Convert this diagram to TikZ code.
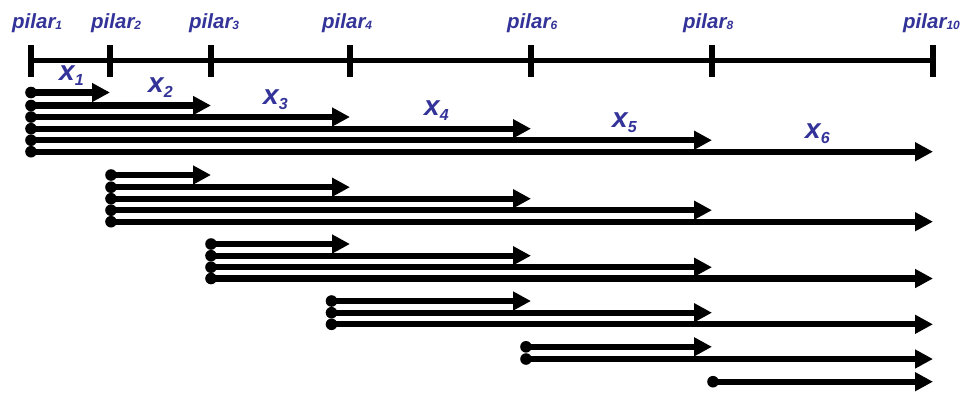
\documentclass[tikz,border=0pt]{standalone}
\usepackage{fontspec}
\setmainfont{Liberation Sans}
\usetikzlibrary{arrows.meta}
\definecolor{labelblue}{RGB}{51,51,153}
\tikzset{
  axisline/.style={line width=5.5pt},
  tickmark/.style={line width=5.5pt},
  span/.style={line width=6.2pt, -{Triangle[length=18pt,width=18pt]}},
  startdot/.style={fill=black},
  pilarlabel/.style={anchor=base west, inner sep=0pt, text=labelblue,
    font=\fontsize{20.5}{20.5}\selectfont\bfseries\itshape},
  xlabel/.style={anchor=base west, inner sep=0pt, text=labelblue,
    font=\fontsize{28}{28}\selectfont\bfseries\itshape},
}
\newcommand{\pilarsub}[1]{pilar\raisebox{-1.5pt}{\fontsize{12}{12}\selectfont #1}}
\newcommand{\xsub}[1]{x\raisebox{-5pt}{\fontsize{16}{16}\selectfont #1}}
\begin{document}
\begin{tikzpicture}[x=1pt,y=-1pt]
  \useasboundingbox (0,0) rectangle (965,392);

  % axis with the pillar positions
  \coordinate (t1) at (31,60.5);
  \coordinate (t2) at (110,60.5);
  \coordinate (t3) at (211,60.5);
  \coordinate (t4) at (350,60.5);
  \coordinate (t6) at (531,60.5);
  \coordinate (t8) at (712,60.5);
  \coordinate (t10) at (933,60.5);
  \draw[axisline] (t1) -- (t10);
  \foreach \t in {t1,t2,t3,t4,t6,t8,t10}
    \draw[tickmark] ([yshift=-16pt]\t) -- ([yshift=15.5pt]\t);

  % pillar names
  \node[pilarlabel] (l1) at (12,28) {\pilarsub{1}};
  \node[pilarlabel] (l2) at (91,28) {\pilarsub{2}};
  \node[pilarlabel] (l3) at (189,28) {\pilarsub{3}};
  \node[pilarlabel] (l4) at (322,28) {\pilarsub{4}};
  \node[pilarlabel] (l6) at (507,28) {\pilarsub{6}};
  \node[pilarlabel] (l8) at (683,28) {\pilarsub{8}};
  \node[pilarlabel] (l10) at (903,28) {\pilarsub{10}};

  % span lengths
  \node[xlabel] (x1) at (59,80) {\xsub{1}};
  \node[xlabel] (x2) at (148,92.5) {\xsub{2}};
  \node[xlabel] (x3) at (263,104) {\xsub{3}};
  \node[xlabel] (x4) at (424,115) {\xsub{4}};
  \node[xlabel] (x5) at (612,127) {\xsub{5}};
  \node[xlabel] (x6) at (805,138) {\xsub{6}};

  % spans: start x / row y / end pillar
  \foreach \sx/\y/\e in {
      31/92.5/t2, 31/105.5/t3, 31/117/t4, 31/128.7/t6, 31/140.2/t8, 31/151.7/t10,
      111/175/t3, 111/187.2/t4, 111/198.7/t6, 111/210.2/t8, 111/221.7/t10,
      211/244/t4, 211/255.7/t6, 211/267.2/t8, 211/278.5/t10,
      331.5/301/t6, 331.5/312.7/t8, 331.5/324.3/t10,
      526/346.8/t8, 526/359/t10,
      713/381.7/t10}
  {
    \coordinate (s) at (\sx,\y);
    \draw[span] (s) -- (\e |- s);
    \fill[startdot] (s) circle (5.8pt);
  }
\end{tikzpicture}
\end{document}
